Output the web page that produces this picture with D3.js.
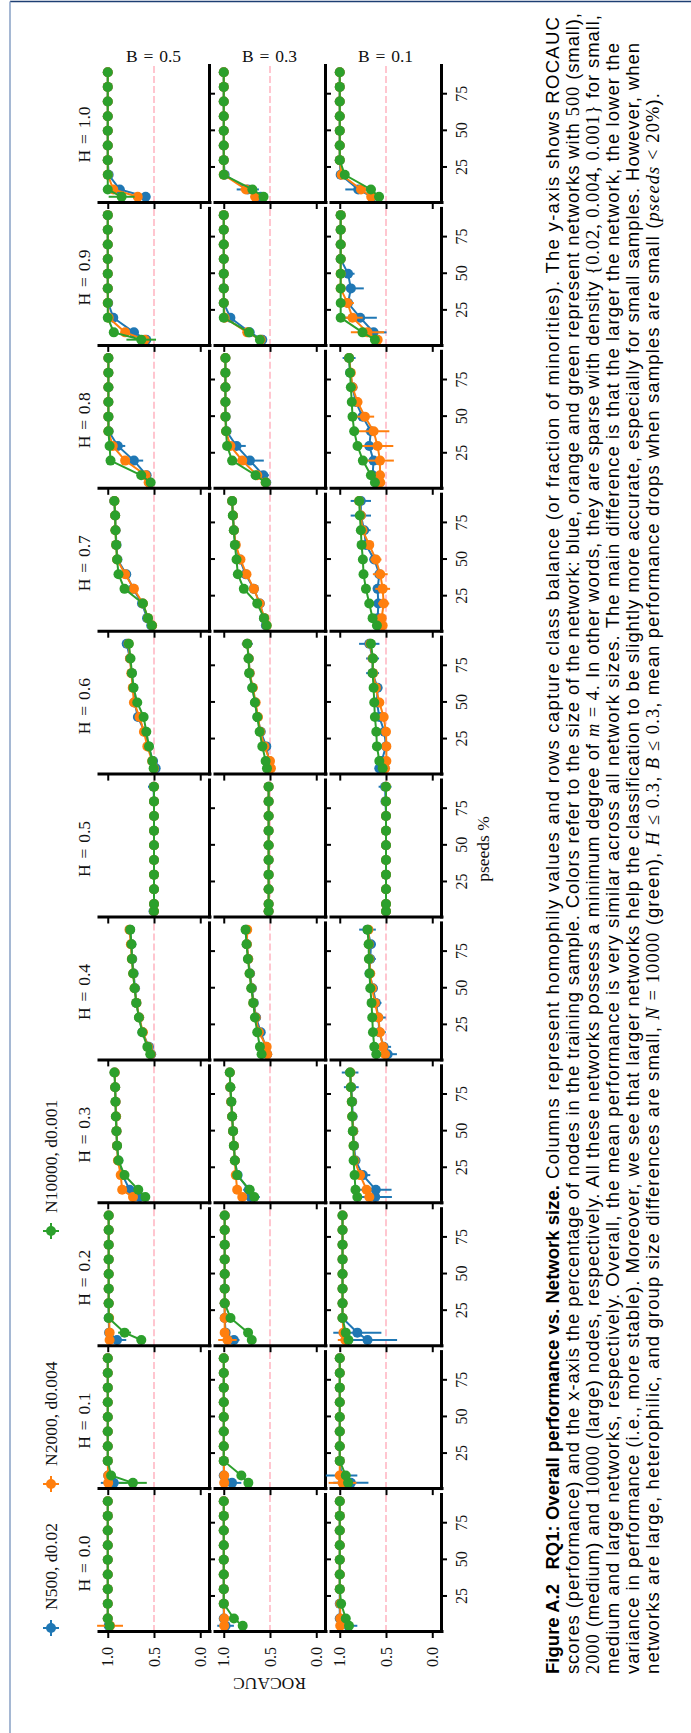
<!DOCTYPE html>
<html><head><meta charset="utf-8">
<script src="https://cdn.jsdelivr.net/npm/d3@7"></script>
<style>html,body{margin:0;padding:0;background:#fff;} svg{display:block;}</style>
</head><body>
<script>
// ---------------- DATA ----------------
const pseeds = [5, 10, 20, 30, 40, 50, 60, 70, 80, 90];
const homophilyLabels = ["0.0","0.1","0.2","0.3","0.4","0.5","0.6","0.7","0.8","0.9","1.0"];
const balanceLabels = ["0.5","0.3","0.1"];
const seriesLabels = ["N500, d0.02", "N2000, d0.004", "N10000, d0.001"];
const xTickValues = [25, 50, 75];
const yTickValues = [0.0, 0.5, 1.0];
const chanceLevel = 0.5;

// ROCAUC means; one row per homophily value (H=0.0 ... 1.0), one entry per pseeds value
const rocN500_B05 = [
 [0.99,1,1,1,1,1,1,1,1,1],
 [0.935,0.995,1,1,1,1,1,1,1,1],
 [0.90,0.985,0.99,0.99,0.99,0.99,0.99,0.99,0.99,0.99],
 [0.655,0.764,0.84,0.885,0.90,0.905,0.91,0.915,0.92,0.925],
 [0.53,0.555,0.625,0.66,0.69,0.705,0.72,0.735,0.745,0.76],
 [0.505,0.50,0.50,0.50,0.50,0.50,0.50,0.50,0.50,0.505],
 [0.482,0.51,0.56,0.60,0.674,0.71,0.725,0.74,0.76,0.795],
 [0.53,0.575,0.63,0.725,0.80,0.895,0.905,0.915,0.92,0.93],
 [0.547,0.58,0.717,0.891,0.99,0.993,0.993,0.993,0.993,0.993],
 [0.583,0.717,0.94,0.995,1,1,1,1,1,1],
 [0.59,0.87,0.99,1,1,1,1,1,1,1]];
const rocN2000_B05 = [
 [0.975,1,1,1,1,1,1,1,1,1],
 [0.995,0.995,1,1,1,1,1,1,1,1],
 [0.98,0.98,0.985,0.99,0.99,0.99,0.99,0.99,0.99,0.99],
 [0.727,0.844,0.86,0.89,0.90,0.905,0.91,0.915,0.92,0.925],
 [0.535,0.565,0.62,0.66,0.69,0.71,0.725,0.74,0.75,0.765],
 [0.50,0.50,0.50,0.50,0.50,0.50,0.50,0.50,0.50,0.50],
 [0.50,0.52,0.572,0.609,0.656,0.717,0.73,0.745,0.76,0.775],
 [0.52,0.565,0.62,0.717,0.812,0.899,0.909,0.917,0.92,0.928],
 [0.558,0.59,0.812,0.946,0.993,0.993,0.993,0.993,0.993,0.993],
 [0.60,0.812,0.99,1,1,1,1,1,1,1],
 [0.676,0.94,1,1,1,1,1,1,1,1]];
const rocN10000_B05 = [
 [0.98,1,1,1,1,1,1,1,1,1],
 [0.728,0.964,1,1,1,1,1,1,1,1],
 [0.637,0.818,0.99,0.99,0.99,0.99,0.99,0.99,0.99,0.99],
 [0.594,0.67,0.819,0.884,0.899,0.906,0.913,0.917,0.92,0.928],
 [0.54,0.572,0.627,0.663,0.692,0.71,0.725,0.739,0.743,0.757],
 [0.50,0.50,0.50,0.50,0.50,0.50,0.50,0.50,0.50,0.50],
 [0.504,0.518,0.554,0.583,0.612,0.681,0.721,0.739,0.754,0.772],
 [0.522,0.565,0.62,0.819,0.884,0.899,0.909,0.917,0.92,0.928],
 [0.536,0.638,0.97,0.98,0.993,0.993,0.993,0.993,0.993,0.993],
 [0.638,0.935,1,1,1,1,1,1,1,1],
 [0.85,1,1,1,1,1,1,1,1,1]];

const rocN500_B03 = [
 [0.98,1,1,1,1,1,1,1,1,1],
 [0.91,1,1,1,1,1,1,1,1,1],
 [0.89,0.98,0.99,0.99,0.99,0.99,0.99,0.99,0.99,0.99],
 [0.71,0.73,0.85,0.88,0.89,0.90,0.91,0.92,0.93,0.935],
 [0.53,0.547,0.60,0.65,0.675,0.695,0.715,0.735,0.75,0.76],
 [0.515,0.515,0.515,0.515,0.515,0.515,0.515,0.515,0.515,0.515],
 [0.51,0.51,0.54,0.60,0.635,0.66,0.69,0.72,0.73,0.745],
 [0.545,0.565,0.61,0.674,0.765,0.826,0.875,0.89,0.90,0.91],
 [0.54,0.572,0.717,0.862,0.97,0.98,0.982,0.982,0.982,0.982],
 [0.583,0.72,0.928,1,1,1,1,1,1,1],
 [0.60,0.74,0.99,1,1,1,1,1,1,1]];
const rocN2000_B03 = [
 [0.995,0.995,1,1,1,1,1,1,1,1],
 [0.995,0.995,1,1,1,1,1,1,1,1],
 [0.96,0.99,0.99,0.99,0.99,0.99,0.99,0.99,0.99,0.99],
 [0.80,0.855,0.87,0.88,0.89,0.90,0.91,0.92,0.93,0.935],
 [0.53,0.536,0.62,0.655,0.68,0.70,0.72,0.735,0.75,0.746],
 [0.515,0.515,0.515,0.515,0.515,0.515,0.515,0.515,0.515,0.515],
 [0.49,0.50,0.56,0.605,0.63,0.655,0.685,0.72,0.73,0.745],
 [0.536,0.56,0.612,0.674,0.754,0.819,0.87,0.89,0.90,0.91],
 [0.547,0.638,0.80,0.928,0.975,0.982,0.982,0.982,0.982,0.982],
 [0.60,0.746,0.99,1,1,1,1,1,1,1],
 [0.66,0.76,1,1,1,1,1,1,1,1]];
const rocN10000_B03 = [
 [0.795,0.89,1,1,1,1,1,1,1,1],
 [0.734,0.81,1,1,1,1,1,1,1,1],
 [0.697,0.737,0.927,0.99,0.99,0.99,0.99,0.99,0.99,0.99],
 [0.67,0.72,0.855,0.88,0.891,0.899,0.909,0.917,0.928,0.935],
 [0.591,0.609,0.638,0.663,0.681,0.703,0.721,0.739,0.754,0.764],
 [0.515,0.515,0.515,0.515,0.515,0.515,0.515,0.515,0.515,0.515],
 [0.533,0.547,0.583,0.612,0.638,0.663,0.692,0.725,0.732,0.746],
 [0.536,0.565,0.638,0.783,0.848,0.862,0.88,0.891,0.902,0.909],
 [0.547,0.656,0.909,0.964,0.975,0.982,0.982,0.982,0.982,0.982],
 [0.609,0.728,1,1,1,1,1,1,1,1],
 [0.57,0.69,1,1,1,1,1,1,1,1]];

const rocN500_B01 = [
 [0.91,1,1,1,1,1,1,1,1,1],
 [0.88,0.98,1,1,1,1,1,1,1,1],
 [0.70,0.81,0.97,0.97,0.97,0.97,0.97,0.97,0.97,0.97],
 [0.616,0.61,0.75,0.83,0.845,0.853,0.86,0.865,0.875,0.888],
 [0.482,0.525,0.572,0.583,0.609,0.641,0.678,0.67,0.663,0.70],
 [0.50,0.50,0.50,0.50,0.50,0.50,0.50,0.50,0.505,0.51],
 [0.572,0.547,0.50,0.518,0.572,0.598,0.591,0.645,0.645,0.681],
 [0.59,0.59,0.583,0.591,0.572,0.627,0.717,0.736,0.772,0.772],
 [0.609,0.645,0.634,0.681,0.663,0.754,0.826,0.862,0.888,0.899],
 [0.609,0.634,0.779,0.91,0.88,0.91,0.99,0.99,0.99,0.99],
 [0.65,0.80,0.99,1,1,1,1,1,1,1]];
const rocN2000_B01 = [
 [0.995,0.995,0.995,1,1,1,1,1,1,1],
 [0.97,1,1,1,1,1,1,1,1,1],
 [0.94,0.96,0.97,0.97,0.97,0.97,0.97,0.97,0.97,0.97],
 [0.68,0.71,0.78,0.84,0.85,0.855,0.865,0.87,0.88,0.885],
 [0.51,0.533,0.565,0.583,0.62,0.65,0.67,0.68,0.685,0.69],
 [0.50,0.50,0.50,0.50,0.50,0.50,0.50,0.50,0.50,0.50],
 [0.51,0.496,0.496,0.50,0.525,0.572,0.609,0.64,0.645,0.67],
 [0.536,0.547,0.525,0.536,0.562,0.609,0.681,0.754,0.772,0.79],
 [0.562,0.565,0.565,0.591,0.634,0.728,0.808,0.862,0.88,0.899],
 [0.59,0.70,0.862,0.917,0.99,0.99,0.99,0.99,0.99,0.99],
 [0.66,0.77,0.98,1,1,1,1,1,1,1]];
const rocN10000_B01 = [
 [0.90,0.935,0.985,1,1,1,1,1,1,1],
 [0.91,0.935,1,1,1,1,1,1,1,1],
 [0.906,0.935,0.97,0.97,0.97,0.97,0.97,0.97,0.97,0.97],
 [0.81,0.83,0.84,0.85,0.851,0.859,0.866,0.87,0.88,0.888],
 [0.605,0.627,0.641,0.649,0.656,0.67,0.678,0.685,0.688,0.70],
 [0.50,0.50,0.50,0.50,0.50,0.50,0.50,0.50,0.50,0.50],
 [0.536,0.572,0.598,0.605,0.62,0.627,0.634,0.645,0.641,0.663],
 [0.598,0.645,0.681,0.717,0.743,0.75,0.764,0.772,0.783,0.79],
 [0.62,0.663,0.75,0.808,0.844,0.862,0.87,0.88,0.888,0.899],
 [0.62,0.754,0.99,0.99,0.99,0.99,0.99,0.99,0.99,0.99],
 [0.575,0.663,0.946,1,1,1,1,1,1,1]];

// error bar half-lengths (same layout)
const errN500_B05 = [
 [.02,0,0,0,0,0,0,0,0,0],[.14,.01,0,0,0,0,0,0,0,0],[.10,.02,.01,0,0,0,0,0,0,0],
 [.05,.04,.03,.02,.01,.01,.01,.01,.01,.01],[.02,.02,.02,.01,.01,.01,.01,.01,.01,.01],
 [.02,.01,.01,.01,.01,.01,.01,.02,.02,.06],[.02,.02,.02,.02,.02,.02,.02,.02,.02,.03],
 [.02,.03,.03,.03,.03,.02,.01,.01,.01,.01],[.03,.04,.10,.08,.01,0,0,0,0,0],
 [.03,.05,.04,.01,0,0,0,0,0,0],[.05,.05,.02,0,0,0,0,0,0,0]];
const errN2000_B05 = [
 [.14,0,0,0,0,0,0,0,0,0],[.02,.01,0,0,0,0,0,0,0,0],[.03,.01,.01,0,0,0,0,0,0,0],
 [.03,.03,.02,.01,.01,.01,.01,.01,.01,.01],[.01,.01,.01,.01,.01,.01,.01,.01,.01,.01],
 [.01,.01,.01,.01,.01,.01,.01,.01,.01,.01],[.01,.01,.01,.01,.01,.01,.01,.01,.01,.01],
 [.02,.02,.02,.02,.01,.01,.01,.01,.01,.01],[.02,.03,.04,.02,0,0,0,0,0,0],
 [.03,.04,.01,0,0,0,0,0,0,0],[.03,.03,.01,0,0,0,0,0,0,0]];
const errN10000_B05 = [
 [.02,0,0,0,0,0,0,0,0,0],[.15,.03,0,0,0,0,0,0,0,0],[.05,.07,.01,0,0,0,0,0,0,0],
 [.02,.02,.01,.01,.01,.01,.01,.01,.01,.01],[.01,.01,.01,.01,.01,.01,.01,.01,.01,.01],
 [.01,.01,.01,.01,.01,.01,.01,.01,.01,.01],[.01,.01,.01,.01,.01,.01,.01,.01,.01,.01],
 [.01,.01,.01,.01,.01,.01,.01,.01,.01,.01],[.02,.03,.01,0,0,0,0,0,0,0],
 [.16,.05,0,0,0,0,0,0,0,0],[.14,0,0,0,0,0,0,0,0,0]];
const errN500_B03 = [
 [.09,0,0,0,0,0,0,0,0,0],[.10,0,0,0,0,0,0,0,0,0],[.06,.01,0,0,0,0,0,0,0,0],
 [.10,.06,.02,.01,.01,.01,.01,.01,.01,.01],[.02,.02,.01,.01,.01,.01,.01,.01,.01,.01],
 [.01,.01,.01,.01,.01,.01,.01,.01,.01,.02],[.02,.02,.02,.01,.01,.02,.01,.01,.01,.06],
 [.02,.02,.03,.03,.02,.02,.01,.01,.01,.01],[.03,.06,.15,.10,.01,0,0,0,0,0],
 [.05,.05,.05,.01,0,0,0,0,0,0],[.05,.12,.02,0,0,0,0,0,0,0]];
const errN2000_B03 = [
 [.02,0,0,0,0,0,0,0,0,0],[.02,0,0,0,0,0,0,0,0,0],[.10,.01,0,0,0,0,0,0,0,0],
 [.04,.03,.01,.01,.01,.01,.01,.01,.01,.01],[.01,.01,.01,.01,.01,.01,.01,.01,.01,.01],
 [.01,.01,.01,.01,.01,.01,.01,.01,.01,.01],[.01,.01,.01,.01,.01,.01,.01,.01,.01,.01],
 [.02,.02,.03,.03,.02,.01,.01,.01,.01,.01],[.02,.03,.05,.02,0,0,0,0,0,0],
 [.03,.04,.01,0,0,0,0,0,0,0],[.05,.06,.01,0,0,0,0,0,0,0]];
const errN10000_B03 = [
 [.02,.01,0,0,0,0,0,0,0,0],[.02,.01,0,0,0,0,0,0,0,0],[.02,.02,.01,0,0,0,0,0,0,0],
 [.03,.03,.02,.01,.01,.01,.01,.01,.01,.01],[.01,.01,.01,.01,.01,.01,.01,.01,.01,.01],
 [.01,.01,.01,.01,.01,.01,.01,.01,.01,.01],[.01,.01,.01,.01,.01,.01,.01,.01,.01,.01],
 [.02,.02,.02,.02,.01,.01,.01,.01,.01,.01],[.02,.03,.05,.02,0,0,0,0,0,0],
 [.02,.03,0,0,0,0,0,0,0,0],[.02,.05,0,0,0,0,0,0,0,0]];
const errN500_B01 = [
 [.10,.02,0,0,0,0,0,0,0,0],[.19,.17,.01,0,0,0,0,0,0,0],[.32,.26,.01,0,0,0,0,0,0,0],
 [.18,.17,.08,.05,.04,.02,.03,.03,.08,.09],[.10,.08,.07,.08,.06,.04,.03,.06,.05,.09],
 [.03,.03,.03,.03,.03,.03,.04,.04,.05,.07],[.05,.05,.05,.05,.05,.05,.05,.07,.07,.11],
 [.05,.05,.05,.05,.05,.05,.05,.07,.11,.11],[.05,.06,.06,.06,.06,.06,.05,.05,.03,.07],
 [.05,.14,.18,.05,.14,.07,.01,0,0,0],[.05,.14,.03,0,0,0,0,0,0,0]];
const errN2000_B01 = [
 [.02,.02,0,0,0,0,0,0,0,0],[.15,.02,0,0,0,0,0,0,0,0],[.08,.03,0,0,0,0,0,0,0,0],
 [.05,.05,.04,.02,.01,.01,.01,.01,.01,.01],[.04,.03,.03,.03,.02,.02,.02,.02,.02,.02],
 [.02,.02,.02,.02,.02,.02,.02,.02,.02,.02],[.04,.03,.03,.03,.03,.03,.02,.02,.02,.02],
 [.04,.04,.06,.08,.08,.06,.04,.02,.02,.02],[.04,.05,.15,.17,.17,.10,.05,.03,.02,.02],
 [.04,.18,.11,.07,.01,0,0,0,0,0],[.04,.05,.02,0,0,0,0,0,0,0]];
const errN10000_B01 = [
 [.02,.02,.01,0,0,0,0,0,0,0],[.03,.02,0,0,0,0,0,0,0,0],[.03,.02,0,0,0,0,0,0,0,0],
 [.03,.03,.02,.02,.01,.01,.01,.01,.01,.01],[.02,.02,.02,.02,.02,.02,.02,.02,.02,.02],
 [.02,.02,.02,.02,.02,.02,.02,.02,.02,.02],[.02,.02,.02,.02,.02,.02,.02,.02,.02,.02],
 [.02,.02,.02,.02,.02,.02,.02,.02,.02,.02],[.03,.03,.03,.02,.01,.01,.01,.01,.01,.01],
 [.04,.04,.01,0,0,0,0,0,0,0],[.05,.05,.03,0,0,0,0,0,0,0]];

// ---------------- TABLES BUILT FROM THE ARRAYS ----------------
const rocTable = [
  [rocN500_B05, rocN2000_B05, rocN10000_B05],
  [rocN500_B03, rocN2000_B03, rocN10000_B03],
  [rocN500_B01, rocN2000_B01, rocN10000_B01]];
const errTable = [
  [errN500_B05, errN2000_B05, errN10000_B05],
  [errN500_B03, errN2000_B03, errN10000_B03],
  [errN500_B01, errN2000_B01, errN10000_B01]];

// ---------------- STYLE / LAYOUT ----------------
const seriesColors = ["#1f77b4", "#ff7f0e", "#2ca02c"];
const serif = "'Liberation Serif','DejaVu Serif',serif";
const sans = "'Liberation Sans',Arial,Helvetica,sans-serif";
const pageW = 691, pageH = 1733;
const colX0 = 101, colPitch = 142.9, panelW = 137;
const rowY0 = 98, rowPitch = 116, panelH = 111;
const txt = "#111";

const svg = d3.select("body").append("svg").attr("width", pageW).attr("height", pageH);
svg.append("rect").attr("width", pageW).attr("height", pageH).attr("fill", "#fff");
// page frame
svg.append("line").attr("x1", 10).attr("x2", pageW).attr("y1", 1.5).attr("y2", 1.5)
  .attr("stroke", "#1d3f73").attr("stroke-width", 1.5);
svg.append("line").attr("x1", 10).attr("x2", 10).attr("y1", 1.5).attr("y2", pageH)
  .attr("stroke", "#8fa6c8").attr("stroke-width", 1.6);

// landscape drawing, rotated onto the portrait page
const root = svg.append("g").attr("transform", `translate(0,${pageH}) rotate(-90)`);

balanceLabels.forEach((bLab, r) => {
  const top = rowY0 + r * rowPitch;
  const y = d3.scaleLinear().domain([-0.1, 1.1]).range([top + panelH + 0.5, top + 0.5]);
  homophilyLabels.forEach((hLab, c) => {
    const x0 = colX0 + c * colPitch;
    const x = d3.scaleLinear().domain([0.75, 94.25]).range([x0, x0 + panelW]);
    const panel = root.append("g");

    panel.append("line")
      .attr("x1", x.range()[0]).attr("x2", x.range()[1])
      .attr("y1", y(chanceLevel)).attr("y2", y(chanceLevel))
      .attr("stroke", "#ffc0cb").attr("stroke-width", 1.8).attr("stroke-dasharray", "7,3");

    seriesLabels.forEach((sLab, s) => {
      const pts = pseeds.map((p, i) => ({ p, v: rocTable[r][s][c][i], e: errTable[r][s][c][i] }));
      const col = seriesColors[s];
      panel.selectAll(null).data(pts.filter(d => d.e > 0)).enter().append("line")
        .attr("x1", d => x(d.p)).attr("x2", d => x(d.p))
        .attr("y1", d => y(d.v - d.e)).attr("y2", d => y(d.v + d.e))
        .attr("stroke", col).attr("stroke-width", 2);
      panel.append("path")
        .attr("d", d3.line().x(d => x(d.p)).y(d => y(d.v))(pts))
        .attr("fill", "none").attr("stroke", col).attr("stroke-width", 2);
      panel.selectAll(null).data(pts).enter().append("circle")
        .attr("cx", d => x(d.p)).attr("cy", d => y(d.v)).attr("r", 5)
        .attr("fill", col);
    });

    const ya = d3.axisLeft(y).tickValues(yTickValues).tickSize(6).tickSizeOuter(0).tickPadding(9)
      .tickFormat(c === 0 ? d3.format(".1f") : () => "");
    const gy = panel.append("g").attr("transform", `translate(${x0},0)`).call(ya);
    const xa = d3.axisBottom(x).tickValues(xTickValues).tickSize(6).tickSizeOuter(0).tickPadding(9)
      .tickFormat(r === balanceLabels.length - 1 ? d3.format("d") : () => "");
    const gx = panel.append("g").attr("transform", `translate(0,${top + panelH})`).call(xa);
    [gy, gx].forEach(g => {
      g.select(".domain").attr("stroke", "#000").attr("stroke-width", 3).attr("stroke-linecap", "square");
      g.selectAll(".tick line").attr("stroke", "#000").attr("stroke-width", 2);
      g.selectAll(".tick text").attr("fill", txt).style("font-family", serif).style("font-size", "16px");
    });

    if (r === 0) {
      root.append("text").attr("x", x0 + panelW / 2).attr("y", 90)
        .attr("text-anchor", "middle").attr("fill", txt)
        .style("font-family", serif).style("font-size", "17.5px")
        .text("H\u2004=\u2004" + hLab);
    }
    if (c === homophilyLabels.length - 1) {
      root.append("text")
        .attr("transform", `translate(${x0 + panelW + 4},${top + panelH / 2}) rotate(90)`)
        .attr("text-anchor", "middle").attr("fill", txt)
        .style("font-family", serif).style("font-size", "17.5px")
        .text("B\u2004=\u2004" + bLab);
    }
  });
});

// axis titles
root.append("text").attr("transform", `translate(55,${rowY0 + rowPitch + panelH / 2}) rotate(-90)`)
  .attr("text-anchor", "middle").attr("fill", txt)
  .style("font-family", serif).style("font-size", "17.5px").text("ROCAUC");
root.append("text").attr("x", colX0 + 5 * colPitch + panelW / 2).attr("y", 489)
  .attr("text-anchor", "middle").attr("fill", txt)
  .style("font-family", serif).style("font-size", "17.5px").text("pseeds %");

// legend
const legendX = [105, 249, 502];
seriesLabels.forEach((lab, s) => {
  const lg = root.append("g").attr("transform", `translate(${legendX[s]},51)`);
  lg.append("line").attr("x1", -8).attr("x2", 8).attr("stroke", seriesColors[s]).attr("stroke-width", 2);
  lg.append("line").attr("y1", -8).attr("y2", 8).attr("stroke", seriesColors[s]).attr("stroke-width", 2);
  lg.append("circle").attr("r", 5).attr("fill", seriesColors[s]);
  lg.append("text").attr("x", 18).attr("y", 6).attr("fill", txt)
    .style("font-family", serif).style("font-size", "17.5px").text(lab);
});

// caption (each entry: start x, width, segments)
const captionLines = [
  [[59, 489, [["Figure A.2\u2002 RQ1: Overall performance vs. Network size.", "b"]]],
   [554, 1162, [["Columns represent homophily values and rows capture class balance (or fraction of minorities). The y-axis shows ROCAUC", "n"]]]],
  [[59, 1661, [["scores (performance) and the x-axis the percentage of nodes in the training sample. Colors refer to the size of the network: blue, orange and green represent networks with ", "n"], ["500", "s"], [" (small),", "n"]]]],
  [[59, 1659, [["2000", "s"], [" (medium) and ", "n"], ["10000", "s"], [" (large) nodes, respectively. All these networks possess a minimum degree of ", "n"], ["m", "i"], [" = 4", "s"], [". In other words, they are sparse with density ", "n"], ["{0.02, 0.004, 0.001}", "s"], [" for small,", "n"]]]],
  [[59, 1631, [["medium and large networks, respectively. Overall, the mean performance is very similar across all network sizes. The main difference is that the larger the network, the lower the", "n"]]]],
  [[59, 1631, [["variance in performance (i.e., more stable). Moreover, we see that larger networks help the classification to be slightly more accurate, especially for small samples. However, when", "n"]]]],
  [[59, 1581, [["networks are large, heterophilic, and group size differences are small, ", "n"], ["N", "i"], [" = 10000", "s"], [" (green), ", "n"], ["H", "i"], [" \u2264 0.3", "s"], [", ", "n"], ["B", "i"], [" \u2264 0.3", "s"], [", mean performance drops when samples are small (", "n"], ["pseeds", "i"], [" < 20%", "s"], [").", "n"]]]]
];
captionLines.forEach((parts, i) => {
  parts.forEach(([x, w, segs]) => {
    const t = root.append("text").attr("x", x).attr("y", 559 + i * 20)
      .attr("fill", "#000").style("font-size", "18.5px").attr("xml:space", "preserve")
      .attr("textLength", w).attr("lengthAdjust", "spacing");
    segs.forEach(([str, st]) => {
      const ts = t.append("tspan").text(str);
      if (st === "b") ts.style("font-family", sans).style("font-weight", "bold");
      else if (st === "n") ts.style("font-family", sans);
      else if (st === "s") ts.style("font-family", serif);
      else ts.style("font-family", serif).style("font-style", "italic");
    });
  });
});
</script>
</body></html>
